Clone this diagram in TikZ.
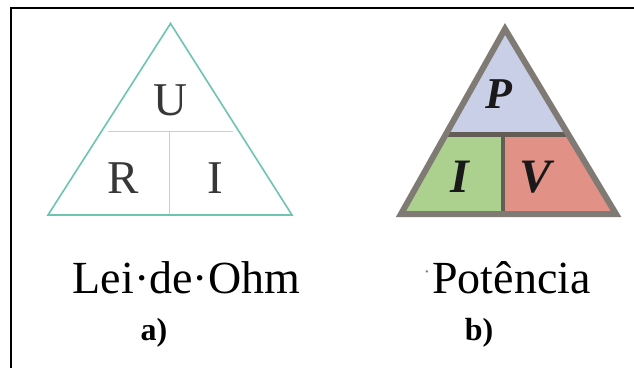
\documentclass[tikz,border=0pt]{standalone}
\usepackage{fontspec}
\setmainfont{Liberation Serif}
\usetikzlibrary{calc}

\definecolor{ohmteal}{RGB}{110,196,176}
\definecolor{ohmdiv}{RGB}{196,210,205}
\definecolor{ohmtext}{RGB}{55,55,55}
\definecolor{pwrgray}{RGB}{128,122,116}
\definecolor{pwrdiv}{RGB}{100,93,86}
\definecolor{pwrblue}{RGB}{202,207,232}
\definecolor{pwrgreen}{RGB}{172,208,142}
\definecolor{pwrred}{RGB}{226,145,134}

\tikzset{
  bigtext/.style={font=\fontsize{46}{50}\selectfont, text=black, inner sep=0pt, anchor=base},
  ohmletter/.style={font=\fontsize{47}{50}\selectfont, text=ohmtext, inner sep=0pt, anchor=base},
  pwrletter/.style={font=\fontsize{48}{52}\selectfont\bfseries\itshape, text=black!90, inner sep=0pt, anchor=base},
  caption/.style={font=\fontsize{32}{36}\selectfont\bfseries, text=black, inner sep=0pt, anchor=base},
  ohmedge/.style={draw=ohmteal, line width=1.6pt, line join=miter},
  ohmsplit/.style={draw=ohmdiv, line width=1.5pt},
  pwredge/.style={draw=pwrgray, line width=6pt, line join=miter},
  pwrsplit/.style={draw=pwrdiv, line width=5pt},
}

\begin{document}
\begin{tikzpicture}[x=1pt,y=-1pt]
\useasboundingbox (0,0) rectangle (634,367);
\fill[white] (0,0) rectangle (634,367);

% outer frame (runs off the right and bottom edges)
\draw[black, line width=2pt] (11,375) -- (11,8) -- (645,8);

% ---- a) Ohm's law triangle ----
\coordinate (oA) at (170.5,23.5);
\coordinate (oL) at (48,215);
\coordinate (oR) at (292,215);
\coordinate (oHl) at (108,131.5);
\coordinate (oHr) at (233,131.5);
\coordinate (oVt) at (169.5,131.5);
\coordinate (oVb) at (169.5,215);
\draw[ohmsplit] (oHl) -- (oHr);
\draw[ohmsplit] (oVt) -- (oVb);
\draw[ohmedge] (oA) -- (oR) -- (oL) -- cycle;
\node[ohmletter] (u) at (170,115) {U};
\node[ohmletter] (r) at (123,193) {R};
\node[ohmletter] (i) at (215,193) {I};
\node[bigtext] (ohm) at (186.5,293) {Lei·de·Ohm};
\node[caption] (capa) at (154,340) {a)};

% ---- b) power triangle ----
\coordinate (pA) at (505,29);
\coordinate (pL) at (401,214);
\coordinate (pR) at (616,214);
\coordinate (pHl) at ($(pA)!0.5676!(pL)$);
\coordinate (pHr) at ($(pA)!0.5676!(pR)$);
\coordinate (pVt) at (503,134);
\coordinate (pVb) at (503,214);
\fill[pwrblue] (pA) -- (pHr) -- (pHl) -- cycle;
\fill[pwrgreen] (pHl) -- (pVt) -- (pVb) -- (pL) -- cycle;
\fill[pwrred] (pVt) -- (pHr) -- (pR) -- (pVb) -- cycle;
\draw[pwrsplit] (pHl) -- (pHr);
\draw[pwrsplit, line width=4pt] (pVt) -- (pVb);
\draw[pwredge] (pA) -- (pR) -- (pL) -- cycle;
\node[pwrletter, font=\fontsize{44}{48}\selectfont\bfseries\itshape] (p) at (499,108) {P};
\node[pwrletter] (ii) at (460,192) {I};
\node[pwrletter] (v) at (536,192) {V};
\node[bigtext] (pot) at (511.5,293) {Potência};
\node[text=gray, inner sep=0pt, font=\fontsize{20}{20}\selectfont] (dot) at (427,275) {·};
\node[caption] (capb) at (479,340) {b)};
\end{tikzpicture}
\end{document}
